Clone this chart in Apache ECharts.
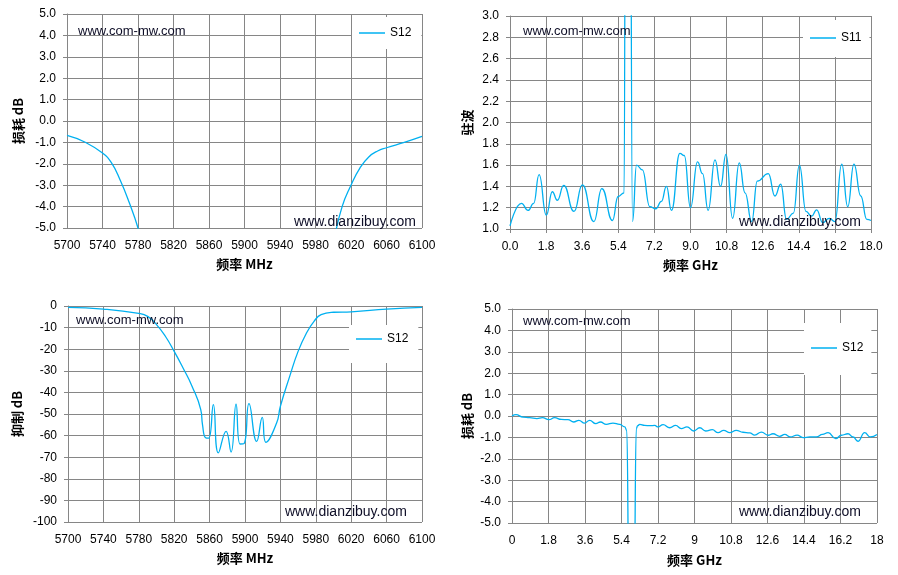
<!DOCTYPE html>
<html><head><meta charset="utf-8">
<script src="https://cdn.jsdelivr.net/npm/echarts@6/dist/echarts.min.js"></script>
<style>html,body{margin:0;padding:0;background:#fff}#c{width:898px;height:575px}</style>
</head><body><div id="c"></div>
<script>
// ---- Chart 1: S12 loss, narrow band (MHz, dB) ----
const s12NarrowFreq = [5700, 5720, 5740, 5750, 5760, 5770, 5780, 5790, 5800, 5900, 5990, 6000, 6010, 6020, 6030, 6040, 6050, 6060, 6080, 6100];
const s12NarrowDb   = [-0.67, -0.98, -1.5, -1.95, -2.77, -3.8, -5.0, -6.6, -8.6, -63, -7.5, -5.7, -4.0, -3.0, -2.2, -1.68, -1.4, -1.25, -1.0, -0.72];

// ---- Chart 2: S11 VSWR, 0-18 GHz ----
const s11Freq = [0.0, 0.57, 0.9, 1.18, 1.45, 1.81, 2.11, 2.36, 2.68, 3.19, 3.61, 4.18, 4.58, 5.11, 5.39, 5.69, 5.77, 5.97, 6.11, 6.31, 6.6, 6.97, 7.27, 7.55, 7.8, 8.05, 8.47, 8.69, 9.0, 9.35, 9.6, 9.88, 10.22, 10.5, 10.77, 11.1, 11.43, 11.72, 12.05, 12.33, 12.88, 13.21, 13.5, 13.79, 14.13, 14.43, 14.76, 15.04, 15.29, 15.59, 15.92, 16.2, 16.54, 16.84, 17.15, 17.49, 17.79, 18.0];
const s11Vswr = [1.03, 1.24, 1.175, 1.24, 1.51, 1.13, 1.35, 1.27, 1.41, 1.165, 1.415, 1.07, 1.38, 1.08, 1.305, 1.34, 6.0, 6.0, 1.07, 1.60, 1.555, 1.21, 1.19, 1.26, 1.40, 1.175, 1.71, 1.69, 1.2, 1.63, 1.52, 1.175, 1.65, 1.40, 1.70, 1.10, 1.62, 1.34, 1.07, 1.45, 1.52, 1.31, 1.42, 1.09, 1.15, 1.60, 1.165, 1.12, 1.18, 1.06, 1.10, 1.07, 1.61, 1.21, 1.61, 1.31, 1.09, 1.08];

// ---- Chart 3: S12 rejection (MHz, dB) ----
const s12RejFreq = [5700, 5740, 5780, 5790, 5800, 5810, 5820, 5830, 5840, 5850, 5852, 5855.5, 5859, 5864.2, 5869.9, 5878.6, 5884.2, 5889.9, 5894.4, 5898.9, 5904.5, 5913.2, 5919.5, 5923.7, 5935.7, 5940, 5950.5, 5960, 5969.5, 5978, 5986, 6000, 6020, 6060, 6100];
const s12RejDb   = [-0.6, -1.4, -3.4, -4.8, -8.6, -14, -21, -28.7, -37, -48, -55, -61, -61.2, -45.7, -68, -58, -67.6, -45.4, -63.9, -63.7, -45.2, -62.7, -51.6, -63.1, -54.2, -46.4, -32.6, -21, -12.5, -7.1, -4.0, -2.9, -2.7, -1.4, -0.6];

// ---- Chart 4: S12 loss, 0-18 GHz ----
const s12WideFreq = [0, 0.2, 0.54, 0.87, 1.23, 1.5, 1.82, 2.1, 2.43, 2.76, 3.04, 3.3, 3.58, 3.83, 4.13, 4.36, 4.65, 4.98, 5.31, 5.56, 5.66, 5.77, 6.02, 6.13, 6.2, 6.3, 6.54, 6.8, 7.04, 7.2, 7.45, 7.78, 8.07, 8.35, 8.63, 8.96, 9.26, 9.55, 9.88, 10.16, 10.44, 10.74, 11.06, 11.39, 11.72, 11.97, 12.3, 12.63, 12.87, 13.2, 13.45, 13.73, 14.06, 14.35, 14.68, 15.01, 15.31, 15.59, 15.96, 16.24, 16.57, 16.82, 17.06, 17.39, 17.67, 18];
const s12WideDb   = [0.0, 0.06, -0.05, -0.08, -0.12, -0.08, -0.17, -0.08, -0.16, -0.17, -0.28, -0.2, -0.33, -0.2, -0.36, -0.28, -0.39, -0.33, -0.39, -0.51, -0.67, -8, -8, -0.58, -0.45, -0.39, -0.44, -0.45, -0.44, -0.51, -0.4, -0.55, -0.44, -0.59, -0.51, -0.7, -0.55, -0.7, -0.64, -0.78, -0.67, -0.78, -0.67, -0.76, -0.79, -0.89, -0.75, -0.9, -0.83, -0.95, -0.86, -0.98, -0.89, -1.01, -0.98, -0.98, -0.86, -0.78, -1.06, -0.9, -0.83, -0.98, -1.18, -0.78, -0.98, -0.86];

const zip = (xs, ys) => xs.map((x, i) => [x, ys[i]]);

const LINE = '#00B0F0';
const GRID = '#868686';
const TICKFONT = 'Liberation Sans, Arial, sans-serif';
const NAMEFONT = 'Noto Sans CJK SC, sans-serif';

function xAx(gi, min, max, interval, fmt, name, gap) {
  return {
    type: 'value', gridIndex: gi, min, max, interval,
    name, nameLocation: 'middle', nameGap: gap,
    nameTextStyle: { fontFamily: NAMEFONT, fontWeight: 'bold', fontSize: 13, color: '#000' },
    axisLine: { show: true, lineStyle: { color: GRID, width: 1 } },
    axisTick: { show: true, length: 4, lineStyle: { color: GRID } },
    splitLine: { show: true, lineStyle: { color: GRID, width: 1 } },
    axisLabel: { color: '#000', fontSize: 12, fontFamily: TICKFONT, margin: 12, formatter: fmt, showMinLabel: true, showMaxLabel: true }
  };
}
function yAx(gi, min, max, interval, fmt, name, gap) {
  return {
    type: 'value', gridIndex: gi, min, max, interval,
    name, nameLocation: 'middle', nameGap: gap, nameRotate: 90,
    nameTextStyle: { fontFamily: NAMEFONT, fontWeight: 'bold', fontSize: 13, color: '#000' },
    axisLine: { show: true, lineStyle: { color: GRID, width: 1 } },
    axisTick: { show: true, length: 4, lineStyle: { color: GRID } },
    splitLine: { show: true, lineStyle: { color: GRID, width: 1 } },
    axisLabel: { color: '#000', fontSize: 12, fontFamily: TICKFONT, margin: 11, formatter: fmt, showMinLabel: true, showMaxLabel: true }
  };
}
const f1 = v => v.toFixed(1);
const f0 = v => String(Math.round(v));
const fg = v => String(Number(v.toFixed(1)));

function ser(name, gi, data, extra) {
  return Object.assign({
    type: 'line', name, xAxisIndex: gi, yAxisIndex: gi, data,
    showSymbol: false, symbol: 'none', smooth: 0.5, clip: true,
    lineStyle: { color: LINE, width: 1.3 }, itemStyle: { color: LINE },
    animation: false
  }, extra || {});
}
function leg(left, top, name, pad) {
  return {
    left, top, data: [name], orient: 'vertical',
    backgroundColor: '#fff', padding: pad,
    icon: 'rect', itemWidth: 26, itemHeight: 1.5, itemGap: 0,
    textStyle: { fontFamily: TICKFONT, fontSize: 12, color: '#000', padding: [0, 0, 0, 0] },
    selectedMode: false
  };
}
function wm(x, y, text, size) {
  return { type: 'text', x, y, z: 100,
    style: { text, font: size + 'px ' + TICKFONT, fill: '#0d0d26', verticalAlign: 'middle', textVerticalAlign: 'middle' } };
}

const chart = echarts.init(document.getElementById('c'), null, { renderer: 'canvas' });
chart.setOption({
  backgroundColor: '#fff',
  animation: false,
  grid: [
    { left: 67, top: 14, width: 355, height: 214 },
    { left: 510, top: 16, width: 361, height: 213 },
    { left: 68, top: 306, width: 354, height: 216 },
    { left: 512, top: 309, width: 365, height: 214 }
  ],
  xAxis: [
    xAx(0, 5700, 6100, 40, f0, '频率 MHz', 30),
    xAx(1, 0, 18, 1.8, f1, '频率 GHz', 30),
    xAx(2, 5700, 6100, 40, f0, '频率 MHz', 30),
    xAx(3, 0, 18, 1.8, fg, '频率 GHz', 31)
  ],
  yAxis: [
    yAx(0, -5, 5, 1, f1, '损耗 dB', 42),
    yAx(1, 1, 3, 0.2, f1, '驻波', 36),
    yAx(2, -100, 0, 10, f0, '抑制 dB', 44),
    yAx(3, -5, 5, 1, f1, '损耗 dB', 38)
  ],
  legend: [
    leg(352, 17, 'S12', [10, 10, 10, 7]),
    leg(803, 20, 'S11', [12, 8, 13, 7]),
    leg(349, 325, 'S12', [8, 10, 18, 7]),
    leg(804, 323, 'S12', [19, 8, 21, 7])
  ],
  series: [
    ser('S12', 0, zip(s12NarrowFreq, s12NarrowDb)),
    ser('S11', 1, zip(s11Freq, s11Vswr), { smoothMonotone: 'x' }),
    ser('S12', 2, zip(s12RejFreq, s12RejDb)),
    ser('S12', 3, zip(s12WideFreq, s12WideDb), { smoothMonotone: 'x' })
  ],
  graphic: [
    wm(78, 31, 'www.com-mw.com', 13), wm(294, 222, 'www.dianzibuy.com', 14),
    wm(523, 31, 'www.com-mw.com', 13), wm(739, 222, 'www.dianzibuy.com', 14),
    wm(76, 320, 'www.com-mw.com', 13), wm(285, 512, 'www.dianzibuy.com', 14),
    wm(523, 321, 'www.com-mw.com', 13), wm(739, 512, 'www.dianzibuy.com', 14)
  ]
});
</script></body></html>
